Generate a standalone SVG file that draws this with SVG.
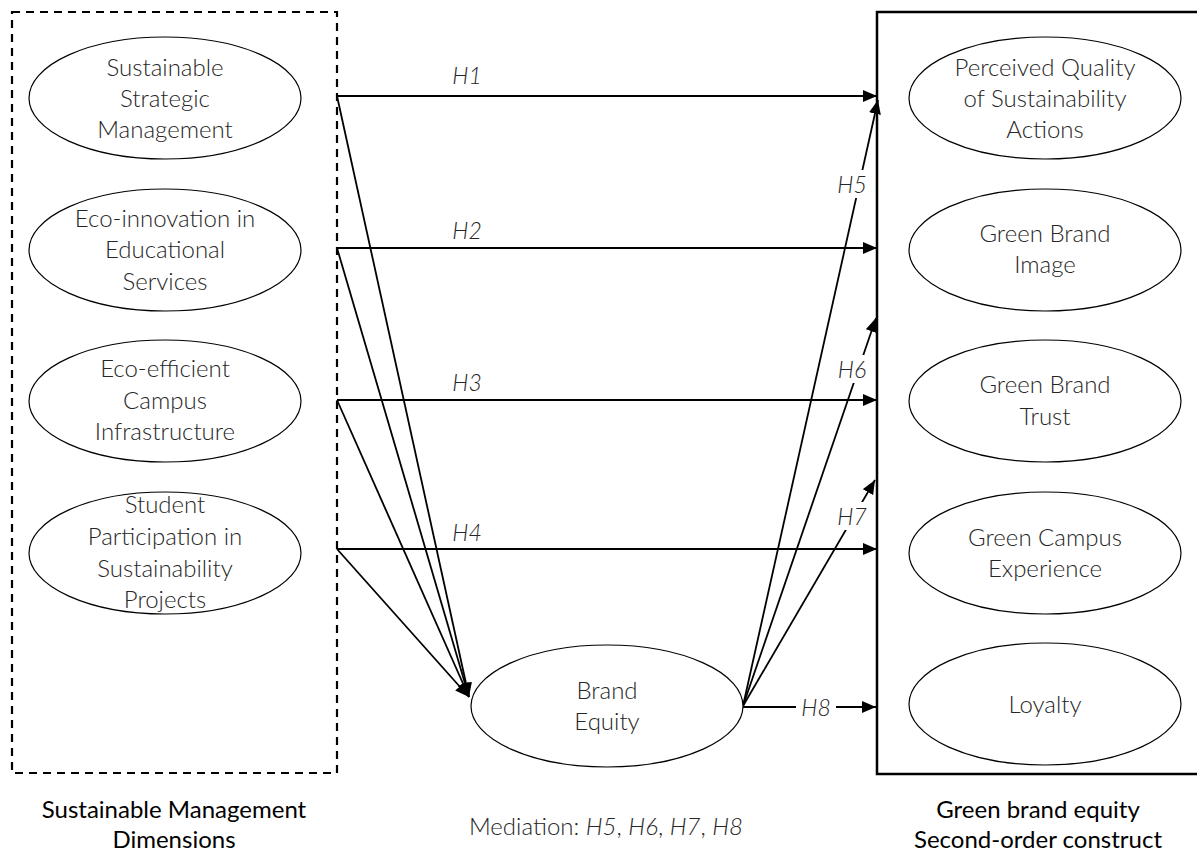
<svg xmlns="http://www.w3.org/2000/svg" width="1197" height="852" viewBox="0 0 1197 852">
<style>
.t{font-family:"Lato","Open Sans","Liberation Sans",sans-serif;font-weight:300;font-size:24px;fill:#262626;text-anchor:middle}
.h{font-family:"Lato","Open Sans","Liberation Sans",sans-serif;font-weight:300;font-style:italic;font-size:23px;fill:#262626;text-anchor:middle}
.b{font-family:"Lato","Open Sans","Liberation Sans",sans-serif;font-weight:400;font-size:24px;fill:#000;text-anchor:middle}
.e{fill:#fff;stroke:#000;stroke-width:1.2}
.c{fill:none;stroke:#000;stroke-width:1.8}
</style>
<defs>
<marker id="ah" markerUnits="userSpaceOnUse" markerWidth="15" markerHeight="13" refX="14" refY="6" orient="auto">
<path d="M0,0 L14,6 L0,12 z" fill="#000"/>
</marker>
</defs>
<rect width="1197" height="852" fill="#fff"/>
<g id="sm-box"><rect x="12" y="12" width="325" height="761" fill="none" stroke="#000" stroke-width="2.2" stroke-dasharray="8 6"/></g>
<g id="gbe-box"><rect x="877" y="12" width="340" height="762" fill="none" stroke="#000" stroke-width="2.5"/></g>

<g id="connectors">
<line class="c" x1="337" y1="96" x2="877" y2="96" marker-end="url(#ah)"/>
<line class="c" x1="337" y1="248" x2="877" y2="248" marker-end="url(#ah)"/>
<line class="c" x1="337" y1="400" x2="877" y2="400" marker-end="url(#ah)"/>
<line class="c" x1="337" y1="549" x2="877" y2="549" marker-end="url(#ah)"/>
<line class="c" x1="337" y1="96" x2="469" y2="697" marker-end="url(#ah)"/>
<line class="c" x1="337" y1="248" x2="469" y2="697" marker-end="url(#ah)"/>
<line class="c" x1="337" y1="400" x2="469" y2="697" marker-end="url(#ah)"/>
<line class="c" x1="337" y1="549" x2="469" y2="697" marker-end="url(#ah)"/>
<line class="c" x1="743" y1="706" x2="878" y2="100" marker-end="url(#ah)"/>
<line class="c" x1="743" y1="706" x2="876" y2="318" marker-end="url(#ah)"/>
<line class="c" x1="743" y1="706" x2="875" y2="480" marker-end="url(#ah)"/>
<line class="c" x1="743" y1="707" x2="876" y2="707" marker-end="url(#ah)"/>
<rect x="836" y="170" width="32" height="28" fill="#fff"/>
<rect x="836" y="355" width="32" height="28" fill="#fff"/>
<rect x="836" y="502" width="32" height="28" fill="#fff"/>
<rect x="796" y="694" width="40" height="28" fill="#fff"/>
<text class="h" x="467" y="84">H1</text>
<text class="h" x="467" y="239">H2</text>
<text class="h" x="467" y="391">H3</text>
<text class="h" x="467" y="541">H4</text>
<text class="h" x="852" y="193">H5</text>
<text class="h" x="852" y="378">H6</text>
<text class="h" x="852" y="525">H7</text>
<text class="h" x="816" y="716">H8</text>
</g>

<g id="n-ssm"><ellipse class="e" cx="165" cy="98" rx="136" ry="61"/>
<text class="t" x="165" y="76">Sustainable</text><text class="t" x="165" y="107">Strategic</text><text class="t" x="165" y="138">Management</text></g>
<g id="n-eies"><ellipse class="e" cx="165" cy="250" rx="136" ry="61"/>
<text class="t" x="165" y="227">Eco-innovation in</text><text class="t" x="165" y="258">Educational</text><text class="t" x="165" y="290">Services</text></g>
<g id="n-ecci"><ellipse class="e" cx="165" cy="401" rx="136" ry="61"/>
<text class="t" x="165" y="377">Eco-efficient</text><text class="t" x="165" y="409">Campus</text><text class="t" x="165" y="440">Infrastructure</text></g>
<g id="n-spsp"><ellipse class="e" cx="165" cy="553" rx="136" ry="61"/>
<text class="t" x="165" y="513">Student</text><text class="t" x="165" y="545">Participation in</text><text class="t" x="165" y="577">Sustainability</text><text class="t" x="165" y="608">Projects</text></g>

<g id="n-be"><ellipse class="e" cx="607" cy="706" rx="136" ry="61"/>
<text class="t" x="607" y="699">Brand</text><text class="t" x="607" y="730">Equity</text></g>

<g id="n-pqsa"><ellipse class="e" cx="1045" cy="98" rx="136" ry="61"/>
<text class="t" x="1045" y="76">Perceived Quality</text><text class="t" x="1045" y="107">of Sustainability</text><text class="t" x="1045" y="138">Actions</text></g>
<g id="n-gbi"><ellipse class="e" cx="1045" cy="250" rx="136" ry="61"/>
<text class="t" x="1045" y="242">Green Brand</text><text class="t" x="1045" y="273">Image</text></g>
<g id="n-gbt"><ellipse class="e" cx="1045" cy="401" rx="136" ry="61"/>
<text class="t" x="1045" y="393">Green Brand</text><text class="t" x="1045" y="425">Trust</text></g>
<g id="n-gce"><ellipse class="e" cx="1045" cy="553" rx="136" ry="61"/>
<text class="t" x="1045" y="546">Green Campus</text><text class="t" x="1045" y="577">Experience</text></g>
<g id="n-loy"><ellipse class="e" cx="1045" cy="704" rx="136" ry="61"/>
<text class="t" x="1045" y="713">Loyalty</text></g>

<g id="captions">
<text class="b" x="174" y="818">Sustainable Management</text>
<text class="b" x="174" y="848">Dimensions</text>
<text class="t" x="606" y="835">Mediation: <tspan font-style="italic">H5</tspan>, <tspan font-style="italic">H6</tspan>, <tspan font-style="italic">H7</tspan>, <tspan font-style="italic">H8</tspan></text>
<text class="b" x="1038" y="818">Green brand equity</text>
<text class="b" x="1038" y="848">Second-order construct</text>
</g>
</svg>
